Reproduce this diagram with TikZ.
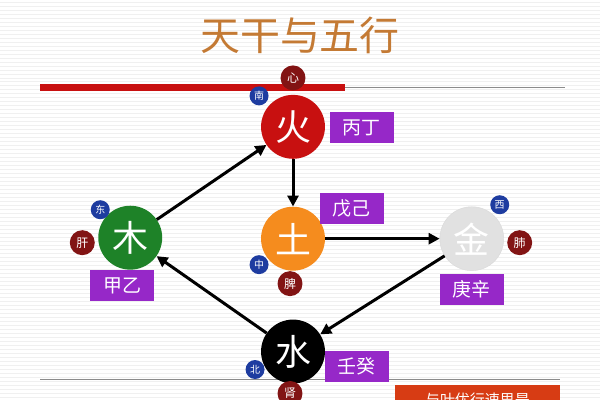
\documentclass[tikz,border=0pt]{standalone}
\usepackage{fontspec}
\newfontfamily\cjk{Noto Sans CJK SC}
\usetikzlibrary{arrows.meta}
\definecolor{titlec}{RGB}{196,122,52}
\definecolor{fire}{RGB}{200,16,16}
\definecolor{earth}{RGB}{245,140,30}
\definecolor{wood}{RGB}{30,130,40}
\definecolor{metal}{RGB}{225,225,225}
\definecolor{purp}{RGB}{150,40,200}
\definecolor{dred}{RGB}{130,20,20}
\definecolor{dblue}{RGB}{30,60,160}
\definecolor{boxred}{RGB}{215,60,20}
\begin{document}
\begin{tikzpicture}[x=1pt,y=-1pt,font=\cjk,
  elem/.style={circle,minimum size=64pt,inner sep=0pt,font=\cjk\fontsize{36}{36}\selectfont,text=white},
  stem/.style={fill=purp,text=white,minimum width=64pt,minimum height=31pt,inner sep=0pt,font=\cjk\fontsize{19}{19}\selectfont},
  organ/.style={circle,fill=dred,text=white,minimum size=25pt,inner sep=0pt,font=\cjk\fontsize{12}{12}\selectfont},
  dir/.style={circle,fill=dblue,text=white,minimum size=19pt,inner sep=0pt,font=\cjk\fontsize{10}{10}\selectfont},
  arr/.style={line width=3pt,-{Triangle[length=11pt,width=11pt]}}]
\fill[white] (0,0) rectangle (600,400);
\foreach \y in {2,6,...,398} \draw[black!6,line width=0.8pt] (0,\y) -- (600,\y);
\useasboundingbox (0,0) rectangle (600,400);
\node[text=titlec,font=\cjk\fontsize{40}{40}\selectfont] (title) at (300,35) {天干与五行};
\draw[black!45,line width=1pt] (40,88) -- (565,88);
\draw[fire,line width=7pt] (40,88) -- (345,88);
\draw[black!45,line width=1pt] (40,380) -- (560,380);
% elements
\node[elem,fill=fire] (huo) at (293,127) {火};
\node[elem,fill=earth] (tu) at (293,239) {土};
\node[elem,fill=metal,draw=black!15] (jin) at (472,239) {金};
\node[elem,fill=wood] (mu) at (130,238) {木};
\node[elem,fill=black] (shui) at (293,352) {水};
% organs
\node[organ] (xin) at (293,78) {心};
\node[organ] (pi) at (290,284) {脾};
\node[organ] (fei) at (520,243) {肺};
\node[organ] (gan) at (82,243) {肝};
\node[organ] (shen) at (290,394) {肾};
% directions
\node[dir] (nan) at (259,96) {南};
\node[dir] (zhong) at (259,265) {中};
\node[dir] (xi) at (500,205) {西};
\node[dir] (dong) at (100,210) {东};
\node[dir] (bei) at (255,370) {北};
% stems
\node[stem] (bd) at (362,128) {丙丁};
\node[stem] (wj) at (352,209) {戊己};
\node[stem] (gx) at (472,290) {庚辛};
\node[stem] (jy) at (122,286) {甲乙};
\node[stem] (rg) at (357,367) {壬癸};
% arrows
\draw[arr] (mu) -- (huo);
\draw[arr] (huo) -- (tu);
\draw[arr] (tu) -- (jin);
\draw[arr] (jin) -- (shui);
\draw[arr] (shui) -- (mu);
% bottom box
\begin{scope}
\clip (0,0) rectangle (600,400);
\node[fill=boxred,text=white,minimum width=165pt,minimum height=30pt,inner sep=0pt,anchor=north west,font=\cjk\fontsize{15}{15}\selectfont] (note) at (395,385) {与叶优行速思是};
\end{scope}
\end{tikzpicture}
\end{document}
